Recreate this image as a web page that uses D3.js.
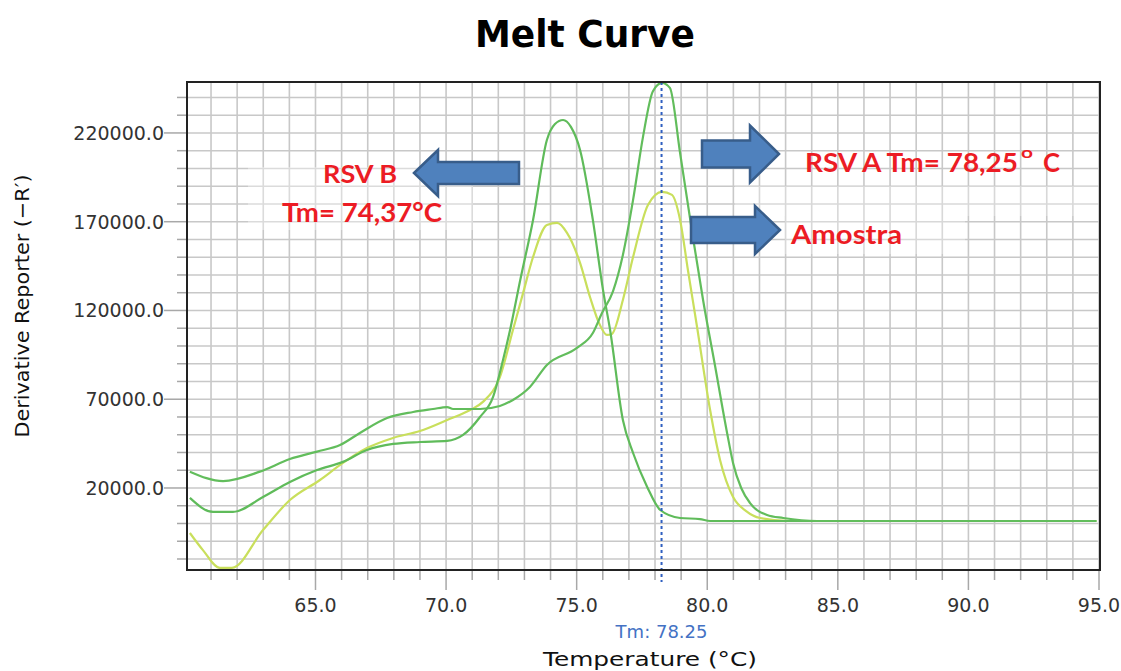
<!DOCTYPE html>
<html><head><meta charset="utf-8">
<script src="https://cdn.jsdelivr.net/npm/d3@7"></script>
<style>body{margin:0;background:#fff;} svg{display:block;}</style>
</head><body>
<svg id="chart" width="1121" height="671"></svg>
<script>
// ---- data ----
const xTickValues = [65, 70, 75, 80, 85, 90, 95];
const yTickValues = [20000, 70000, 120000, 170000, 220000];
const tmValue = 78.25;

const rsvATemp  = [60.19,61.46,62.87,64.02,65.06,65.94,66.7,67.74,68.74,69.5,70.04,70.27,71.3,72.06,72.56,73.21,73.86,75.01,75.62,75.97,76.39,76.77,77.16,77.54,77.92,78.27,78.57,78.96,79.45,79.84,80.3,80.76,80.99,81.3,81.64,82.29,82.91,84.21,94.9];
const rsvAValue = [29200,23900,29200,36300,40500,44200,51000,59400,62800,64500,65600,64500,64500,66200,69600,76900,89300,98900,107300,118600,130800,151300,182300,217800,243500,248200,245400,208700,161400,125900,88700,51000,34000,20000,11500,4800,3100,1400,1400];

const rsvBTemp  = [60.19,61.08,61.84,62.99,64.02,65.06,66.05,66.97,67.97,69.0,70.04,70.65,71.3,71.8,72.18,72.45,72.84,73.33,73.86,74.17,74.48,74.78,75.13,75.62,76.01,76.28,76.77,77.16,77.7,78.2,78.96,79.72,80.11,94.9];
const rsvBValue = [14400,6500,6500,14900,23400,30100,34700,41400,44800,45900,46500,49900,60000,71300,92100,109000,137200,171000,216000,225000,227300,223400,210400,171000,131500,109000,58300,39700,20600,7600,3100,2500,1400,1400];

const amostraTemp  = [60.19,60.69,61.34,61.8,62.99,64.02,65.17,66.05,66.97,67.97,69.0,70.04,70.92,71.41,72.06,72.56,72.95,73.33,73.86,74.25,74.63,75.13,75.51,75.89,76.16,76.35,76.77,77.16,77.73,78.27,78.65,78.96,79.26,79.61,80.11,80.49,80.99,81.49,82.03,83.17,94.9];
const amostraValue = [-5350,-15000,-25000,-25000,-3700,13200,24500,34100,42500,48200,52100,58300,63900,68500,82500,109000,129900,150100,168200,169300,163700,146800,127600,111800,106200,106800,125900,150100,179400,186800,185100,171000,142800,110700,63900,35800,14900,7000,3100,1400,1400];

const seriesNames = ["RSV A", "RSV B", "Amostra"];
const seriesColors = ["#62bd5c", "#5fbb5a", "#c9df5c"];

// ---- setup ----
const svg = d3.select("#chart");
const P = {left: 187, right: 1100, top: 82, bottom: 570};
const x = d3.scaleLinear().domain([60.08, 95.0]).range([187, 1099]);
const y = d3.scaleLinear().domain([-26200, 248700]).range([570, 82]);
const fmt = d3.format(".1f");
const labelFont = "'DejaVu Sans', sans-serif";

// title
svg.append("text").attr("x", 585).attr("y", 47).attr("text-anchor", "middle")
  .attr("font-family", "'DejaVu Sans', sans-serif").attr("font-weight", "bold")
  .attr("font-size", 37).attr("textLength", 220).attr("lengthAdjust", "spacingAndGlyphs")
  .attr("fill", "#000").text("Melt Curve");

// grid
const grid = svg.append("g");
const vGrid = d3.range(61, 96, 1);
const hGrid = d3.range(-20000, 250000, 10000);
grid.selectAll("line.v").data(vGrid).join("line")
  .attr("x1", d => x(d)).attr("x2", d => x(d)).attr("y1", P.top).attr("y2", P.bottom)
  .attr("stroke", "#c8c8c8").attr("stroke-width", 1.6);
grid.selectAll("line.h").data(hGrid).join("line")
  .attr("x1", P.left).attr("x2", P.right).attr("y1", d => y(d)).attr("y2", d => y(d))
  .attr("stroke", "#c8c8c8").attr("stroke-width", 1.6);

// pasted white label boxes (semi-opaque)
const boxes = [[248,167,225,63,0.35],[735,186,363,30,0.3],[785,216,180,38,0.3]];
svg.selectAll("rect.box").data(boxes).join("rect")
  .attr("x", d => d[0]).attr("y", d => d[1]).attr("width", d => d[2]).attr("height", d => d[3])
  .attr("fill", "#fff").attr("opacity", d => d[4]);

// ticks
const yMinor = d3.range(-20000, 250000, 10000);
svg.append("g").selectAll("line").data(yMinor).join("line")
  .attr("x1", d => yTickValues.includes(d) ? P.left - 23 : P.left - 10).attr("x2", P.left)
  .attr("y1", d => y(d)).attr("y2", d => y(d)).attr("stroke", "#a8a8a8").attr("stroke-width", 1.5);
const xMinor = d3.range(61, 96, 1);
svg.append("g").selectAll("line").data(xMinor).join("line")
  .attr("x1", d => x(d)).attr("x2", d => x(d)).attr("y1", P.bottom)
  .attr("y2", d => xTickValues.includes(d) ? P.bottom + 20 : P.bottom + 10)
  .attr("stroke", "#a8a8a8").attr("stroke-width", 1.5);

// tick labels
svg.append("g").selectAll("text").data(yTickValues).join("text")
  .attr("x", 164).attr("y", d => y(d) + 6.8).attr("text-anchor", "end")
  .attr("font-family", labelFont).attr("font-size", 19).attr("fill", "#333")
  .text(d => fmt(d));
svg.append("g").selectAll("text").data(xTickValues).join("text")
  .attr("x", d => x(d)).attr("y", 612).attr("text-anchor", "middle")
  .attr("font-family", labelFont).attr("font-size", 19).attr("fill", "#333")
  .text(d => fmt(d));

// axis titles
svg.append("text").attr("x", 650).attr("y", 666).attr("text-anchor", "middle")
  .attr("font-family", labelFont).attr("font-size", 20).attr("fill", "#111")
  .attr("textLength", 214).attr("lengthAdjust", "spacingAndGlyphs")
  .text("Temperature (°C)");
svg.append("text").attr("transform", "translate(29,306) rotate(-90)").attr("text-anchor", "middle")
  .attr("font-family", labelFont).attr("font-size", 20).attr("fill", "#111")
  .attr("textLength", 263).attr("lengthAdjust", "spacingAndGlyphs")
  .text("Derivative Reporter (\u2212R\u2032)");

// clip
svg.append("clipPath").attr("id", "clip").append("rect")
  .attr("x", P.left).attr("y", P.top).attr("width", P.right - P.left).attr("height", P.bottom - P.top);

// curves
const line = d3.line().x(d => x(d[0])).y(d => y(d[1])).curve(d3.curveMonotoneX);
const series = [
  d3.zip(rsvATemp, rsvAValue),
  d3.zip(rsvBTemp, rsvBValue),
  d3.zip(amostraTemp, amostraValue)
];
const curves = svg.append("g").attr("clip-path", "url(#clip)");
[2, 1, 0].forEach(i => {
  curves.append("path").datum(series[i]).attr("d", line)
    .attr("fill", "none").attr("stroke", seriesColors[i]).attr("stroke-width", 2.2)
    .attr("stroke-linejoin", "round");
});

// Tm dashed line
svg.append("line").attr("x1", x(tmValue)).attr("x2", x(tmValue))
  .attr("y1", P.top).attr("y2", P.bottom + 12)
  .attr("stroke", "#2f5fc0").attr("stroke-width", 2).attr("stroke-dasharray", "3,3");
svg.append("text").attr("x", x(tmValue)).attr("y", 638).attr("text-anchor", "middle")
  .attr("font-family", labelFont).attr("font-size", 18).attr("fill", "#4472c4")
  .text("Tm: " + tmValue.toFixed(2));

// plot border
svg.append("rect").attr("x", P.left).attr("y", P.top)
  .attr("width", P.right - P.left).attr("height", P.bottom - P.top)
  .attr("fill", "none").attr("stroke", "#222").attr("stroke-width", 2);

// block arrows
function blockArrow(tx, ty, dir, len, hl, hh, sh) {
  const s = dir;
  const bx = tx - s * hl, ex = tx - s * len;
  const pts = [[tx, ty], [bx, ty - hh / 2], [bx, ty - sh / 2], [ex, ty - sh / 2],
               [ex, ty + sh / 2], [bx, ty + sh / 2], [bx, ty + hh / 2]];
  svg.append("path").attr("d", "M" + pts.map(p => p.join(",")).join("L") + "Z")
    .attr("fill", "#4f81bd").attr("stroke", "#385d8a").attr("stroke-width", 2.5)
    .attr("stroke-linejoin", "miter");
}
blockArrow(414, 173, -1, 105, 24, 46, 22);
blockArrow(779, 154, 1, 77, 29, 57, 27);
blockArrow(780, 230, 1, 89, 25, 48, 26);

// red annotation text
const annFont = "Lato, 'Open Sans', sans-serif";
function ann(txt, xx, yy, size, len) {
  const t = svg.append("text").attr("x", xx).attr("y", yy)
    .attr("font-family", annFont).attr("font-weight", 700).attr("font-size", size)
    .attr("fill", "#ec1c24").text(txt);
  if (len) t.attr("textLength", len).attr("lengthAdjust", "spacingAndGlyphs");
}
ann("RSV B", 323, 183, 25, 74);
ann("Tm= 74,37°C", 282, 222, 26, 160);
ann("RSV A Tm= 78,25", 805, 172, 26, 213);
ann("o", 1021, 158, 16, 12);
ann("C", 1043, 172, 26, 17);
ann("Amostra", 791, 244, 26, 111);
</script>
</body></html>
